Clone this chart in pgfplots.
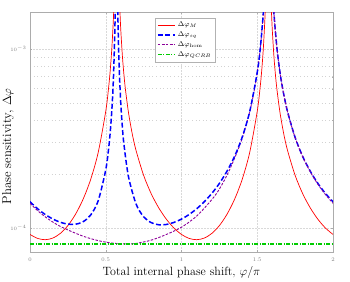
\documentclass[border=0pt]{standalone}
\usepackage{pgfplots}
\pgfplotsset{compat=1.18}
\definecolor{mred}{rgb}{1,0,0}
\definecolor{mblue}{rgb}{0,0,1}
\definecolor{mpurple}{rgb}{0.55,0,0.6}
\definecolor{mgreen}{rgb}{0,0.8,0}
\begin{document}
\begin{tikzpicture}
\useasboundingbox (-30pt,-29pt) rectangle (320pt,252pt);
\begin{axis}[
 at={(0,0)}, anchor=south west,
 scale only axis, width=303pt, height=240pt,
 ymode=log, xmin=0, xmax=2, ymin=7.34e-5, ymax=1.61e-3,
 xtick={0,0.5,1,1.5,2}, xticklabels={0,0.5,1,1.5,2},
 ytick={1e-4,1e-3},
 minor ytick={2e-4,3e-4,4e-4,5e-4,6e-4,7e-4,8e-4,9e-4},
 grid=both,
 major grid style={gray!30, dash pattern=on 2pt off 1pt, line width=0.4pt},
 minor grid style={gray!35, dash pattern=on 0.6pt off 3pt, line width=0.5pt},
 axis line style={gray!65, line width=0.7pt},
 tick style={gray!65}, major tick length=2pt, minor tick length=1.2pt,
 tick align=inside,
 ticklabel style={font=\fontsize{5.5}{6}\selectfont, text=gray},
 xticklabel style={yshift=-2pt},
 xlabel={Total internal phase shift, $\varphi/\pi$},
 ylabel={Phase sensitivity, $\Delta\varphi$},
 every axis x label/.style={at={(axis description cs:0.5,-0.085)}, anchor=center, font=\fontsize{12}{14}\selectfont},
 every axis y label/.style={at={(axis description cs:-0.073,0.44)}, rotate=90, anchor=center, font=\fontsize{12.8}{14}\selectfont},
 legend style={at={(axis description cs:0.4125,0.975)}, anchor=north west, draw=gray!60, line width=0.4pt,
   font=\fontsize{7.5}{8.5}\selectfont, row sep=-0.5pt, inner sep=2pt},
 legend cell align=left,
]
% red
\addplot[color=mred, line width=0.7pt, smooth] coordinates {
(0,9.202e-5)(0.05,8.745e-5)(0.1,8.600e-5)(0.15,8.779e-5)(0.2,9.322e-5)(0.25,1.0312e-4)(0.3,1.1918e-4)(0.35,1.4448e-4)(0.4,1.8629e-4)(0.45,2.6395e-4)(0.5,4.4937e-4)(0.52,6.218e-4)(0.53,7.681e-4)(0.54,1.0036e-3)(0.55,1.4434e-3)(0.555,1.846e-3)};
\addlegendentry{$\Delta\varphi_{M}$}
% blue
\addplot[color=mblue, line width=1.5pt, dash pattern=on 5pt off 2.5pt, smooth] coordinates {
(0,1.402e-4)(0.05,1.281e-4)(0.1,1.190e-4)(0.15,1.123e-4)(0.2,1.076e-4)(0.25,1.051e-4)(0.3,1.049e-4)(0.35,1.083e-4)(0.4,1.180e-4)(0.45,1.418e-4)(0.5,2.114e-4)(0.52,2.830e-4)(0.53,3.467e-4)(0.54,4.528e-4)(0.55,6.62e-4)(0.56,1.257e-3)(0.565,2.3e-3)};
\addlegendentry{$\Delta\varphi_{sq}$}
% purple
\addplot[color=mpurple, line width=0.9pt, dash pattern=on 2.5pt off 1.5pt, smooth] coordinates {
(0,1.374e-4)(0.05,1.25e-4)(0.1,1.155e-4)(0.15,1.08e-4)(0.2,1.02e-4)(0.25,9.75e-5)(0.3,9.35e-5)(0.35,9.0e-5)(0.4,8.72e-5)(0.45,8.5e-5)(0.5,8.33e-5)(0.55,8.22e-5)(0.6,8.16e-5)(0.65,8.15e-5)(0.7,8.2e-5)(0.8,8.55e-5)(0.9,9.2e-5)(1.0,1.01e-4)(1.1,1.165e-4)(1.2,1.44e-4)(1.25,1.65e-4)(1.3,1.97e-4)(1.35,2.45e-4)(1.4,3.16e-4)(1.45,4.458e-4)(1.48,5.856e-4)(1.5,7.410e-4)(1.52,1.010e-3)(1.54,1.586e-3)(1.55,2.22e-3)};
\addlegendentry{$\Delta\varphi_{\mathrm{hom}}$}
% green
\addplot[color=mgreen, line width=1.4pt, dash pattern=on 4pt off 1.5pt on 1pt off 1.5pt] coordinates {(0,8.15e-5)(2,8.15e-5)};
\addlegendentry{$\Delta\varphi_{QCRB}$}
% remaining branches
\addplot[color=mred, line width=0.7pt, smooth, forget plot] coordinates {
(0.59,1.973e-3)(0.595,1.5252e-3)(0.6,1.2446e-3)(0.61,9.105e-4)(0.62,7.185e-4)(0.63,5.938e-4)(0.65,4.418e-4)(0.675,3.354e-4)(0.7,2.710e-4)(0.75,1.9688e-4)(0.8,1.5544e-4)(0.85,1.2944e-4)(0.9,1.1194e-4)(0.95,9.996e-5)(1.0,9.202e-5)(1.05,8.745e-5)(1.1,8.600e-5)(1.15,8.779e-5)(1.2,9.322e-5)(1.25,1.0312e-4)(1.3,1.1918e-4)(1.35,1.4448e-4)(1.4,1.8629e-4)(1.45,2.6395e-4)(1.5,4.4937e-4)(1.52,6.218e-4)(1.53,7.681e-4)(1.54,1.0036e-3)(1.55,1.4434e-3)(1.555,1.846e-3)};
\addplot[color=mred, line width=0.7pt, smooth, forget plot] coordinates {
(1.59,1.973e-3)(1.595,1.5252e-3)(1.6,1.2446e-3)(1.61,9.105e-4)(1.62,7.185e-4)(1.63,5.938e-4)(1.65,4.418e-4)(1.675,3.354e-4)(1.7,2.710e-4)(1.75,1.9688e-4)(1.8,1.5544e-4)(1.85,1.2944e-4)(1.9,1.1194e-4)(1.95,9.996e-5)(2.0,9.202e-5)};
\addplot[color=mblue, line width=1.5pt, dash pattern=on 5pt off 2.5pt, smooth, forget plot] coordinates {
(0.578,2.0e-3)(0.58,1.536e-3)(0.585,9.89e-4)(0.59,7.31e-4)(0.6,4.83e-4)(0.61,3.634e-4)(0.62,2.935e-4)(0.65,1.935e-4)(0.7,1.362e-4)(0.75,1.155e-4)(0.8,1.071e-4)(0.85,1.042e-4)(0.9,1.046e-4)(0.95,1.074e-4)(1.0,1.121e-4)(1.05,1.189e-4)(1.1,1.280e-4)(1.15,1.401e-4)(1.2,1.560e-4)(1.25,1.774e-4)(1.3,2.075e-4)(1.35,2.510e-4)(1.4,3.205e-4)(1.45,4.463e-4)(1.5,7.414e-4)(1.52,1.010e-3)(1.54,1.586e-3)(1.55,2.22e-3)};
\addplot[color=mblue, line width=1.5pt, dash pattern=on 5pt off 2.5pt, smooth, forget plot] coordinates {
(1.6,2.22e-3)(1.61,1.586e-3)(1.63,1.010e-3)(1.65,7.41e-4)(1.67,5.860e-4)(1.7,4.463e-4)(1.75,3.204e-4)(1.8,2.509e-4)(1.85,2.075e-4)(1.9,1.775e-4)(1.95,1.560e-4)(2.0,1.402e-4)};
\addplot[color=mpurple, line width=0.9pt, dash pattern=on 2.5pt off 1.5pt, smooth, forget plot] coordinates {
(1.6,2.22e-3)(1.61,1.586e-3)(1.63,1.010e-3)(1.65,7.410e-4)(1.67,5.856e-4)(1.7,4.458e-4)(1.75,3.197e-4)(1.8,2.500e-4)(1.85,2.061e-4)(1.9,1.757e-4)(1.95,1.538e-4)(2.0,1.374e-4)};
\end{axis}
\end{tikzpicture}
\end{document}
